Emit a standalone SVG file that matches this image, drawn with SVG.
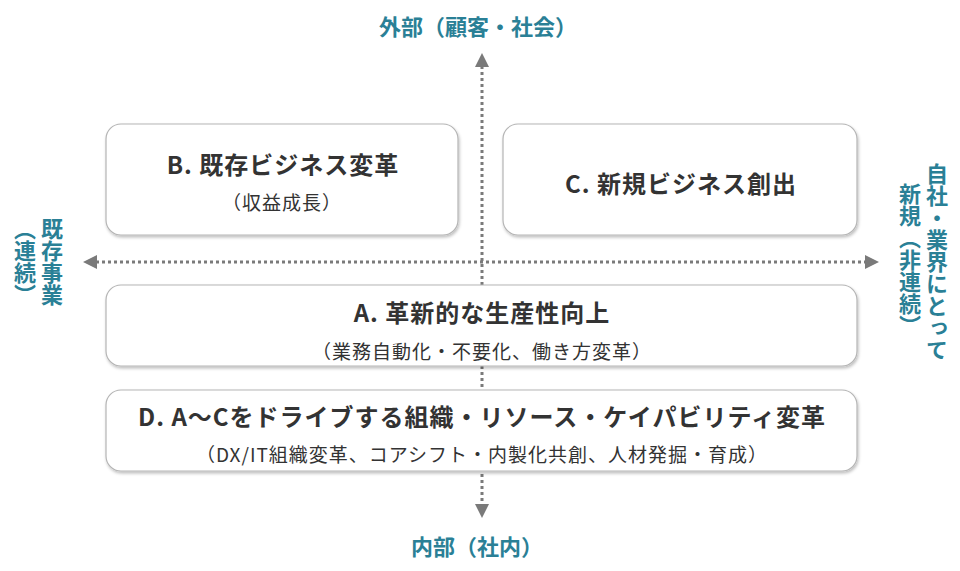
<svg xmlns="http://www.w3.org/2000/svg" width="960" height="571" viewBox="0 0 960 571">
<defs>
<style>
.axis{stroke:#7a7a7a;stroke-width:3;stroke-dasharray:3 3;fill:none}
.head{fill:#7a7a7a}
.box{fill:#fff;stroke:#b5b5b5;stroke-width:1.2;filter:url(#sh)}
.t{font-family:"Noto Sans CJK JP","Noto Sans",sans-serif;fill:#333;text-anchor:middle}
.title{font-size:24px;font-weight:700;letter-spacing:1px}
.sub{font-size:19px;font-weight:400;letter-spacing:1px}
.lab{font-family:"Noto Sans CJK JP","Noto Sans",sans-serif;fill:#2a8096;font-size:22px;font-weight:700;text-anchor:middle}
.v{writing-mode:vertical-rl}
</style>
<filter id="sh" x="-5%" y="-10%" width="110%" height="130%">
<feDropShadow dx="1" dy="2" stdDeviation="1.5" flood-color="#000" flood-opacity="0.25"/>
</filter>
</defs>
<rect width="960" height="571" fill="#fff"/>
<g id="connectors">
<line class="axis" x1="482" y1="66" x2="482" y2="504"/>
<polygon class="head" points="482,53 475,67 489,67"/>
<polygon class="head" points="482,518 475,504 489,504"/>
<line class="axis" x1="96" y1="262" x2="866" y2="262"/>
<polygon class="head" points="83,262 97,255 97,269"/>
<polygon class="head" points="879,262 865,255 865,269"/>
</g>
<g id="label-top"><text class="lab" x="478" y="35">外部（顧客・社会）</text></g>
<g id="label-bottom"><text class="lab" x="477" y="555">内部（社内）</text></g>
<g id="label-left">
<text class="lab v" x="52" y="262">既存事業</text>
<text class="lab v" x="25" y="262">（連続）</text>
</g>
<g id="label-right">
<text class="lab v" x="937" y="262">自社・業界にとって</text>
<text class="lab v" x="910" y="260">新規（非連続）</text>
</g>
<g id="node-b">
<rect class="box" x="106" y="124" width="352" height="111" rx="15"/>
<text class="t title" x="283" y="174">B. 既存ビジネス変革</text>
<text class="t sub" x="282" y="210">（収益成長）</text>
</g>
<g id="node-c">
<rect class="box" x="503" y="124" width="354" height="111" rx="15"/>
<text class="t title" x="681" y="193">C. 新規ビジネス創出</text>
</g>
<g id="node-a">
<rect class="box" x="106" y="285" width="751" height="81" rx="15"/>
<text class="t title" x="482" y="322">A. 革新的な生産性向上</text>
<text class="t sub" x="482" y="359">（業務自動化・不要化、働き方変革）</text>
</g>
<g id="node-d">
<rect class="box" x="106" y="390" width="751" height="81" rx="15"/>
<text class="t title" x="482" y="426">D. A～Cをドライブする組織・リソース・ケイパビリティ変革</text>
<text class="t sub" x="482" y="462">（DX/IT組織変革、コアシフト・内製化共創、人材発掘・育成）</text>
</g>
</svg>
